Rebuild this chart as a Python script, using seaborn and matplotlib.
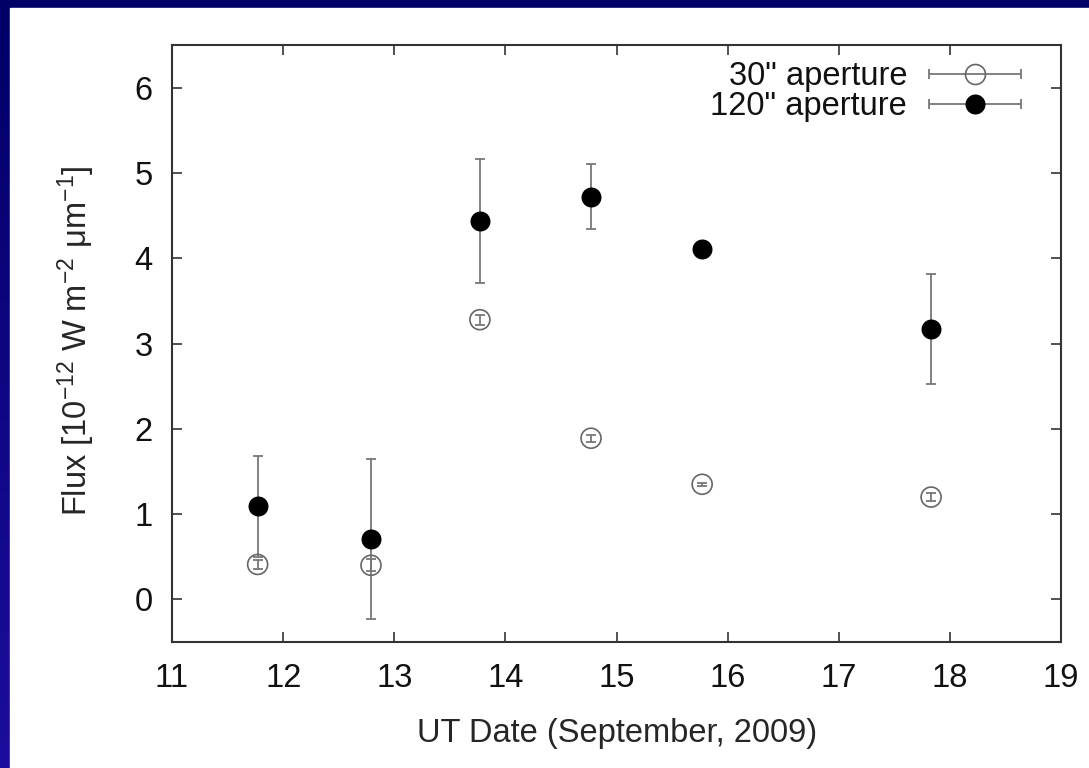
import numpy as np
import pandas as pd
import matplotlib
matplotlib.use("Agg")
import matplotlib.pyplot as plt
import seaborn as sns
from matplotlib.colors import LinearSegmentedColormap
from matplotlib.container import ErrorbarContainer
from matplotlib.legend_handler import HandlerErrorbar
from matplotlib.lines import Line2D
from matplotlib.patches import Rectangle

# values
dates = [11.77, 12.79, 13.77, 14.77, 15.77, 17.83]
flux_30 = [0.41, 0.40, 3.28, 1.89, 1.35, 1.20]
err_30 = [0.05, 0.07, 0.06, 0.04, 0.02, 0.05]
flux_120 = [1.09, 0.71, 4.44, 4.72, 4.11, 3.17]
err_120 = [0.59, 0.94, 0.73, 0.38, 0.0, 0.65]
labels = ['30" aperture', '120" aperture']
x_ticks = list(range(11, 20))
y_ticks = list(range(0, 7))

df = pd.DataFrame({"date": dates, "f30": flux_30, "e30": err_30,
                   "f120": flux_120, "e120": err_120})

sns.set_theme(style="ticks")
plt.rcParams['font.family'] = ['Liberation Sans', 'DejaVu Sans']
plt.rcParams['mathtext.default'] = 'regular'
plt.rcParams['text.color'] = '#111111'
FS = 23.5

fig = plt.figure(figsize=(10.89, 7.68), dpi=100)

# slide background: navy gradient with a white panel
bg = fig.add_axes([0, 0, 1, 1], zorder=-10)
cmap = LinearSegmentedColormap.from_list("slide", [(0.0, 0.0, 0.40), (0.11, 0.05, 0.62)])
bg.imshow(np.linspace(0, 1, 256)[:, None], aspect='auto', cmap=cmap, extent=[0, 1, 0, 1])
bg.add_patch(Rectangle((10 / 1089, 0), 1, 1 - 8 / 768, color='white', transform=bg.transAxes))
bg.set_xlim(0, 1)
bg.set_ylim(0, 1)
bg.axis('off')

ax = fig.add_axes([0.158, 0.164, 0.8164, 0.7773])
ax.set_facecolor('white')

ebar_kw = dict(fmt='none', ecolor='#777777', elinewidth=1.3, capsize=3.3, capthick=1.3, zorder=2)
eb30 = ax.errorbar(df["date"], df["f30"], yerr=df["e30"], **ebar_kw)
eb120 = ax.errorbar(df["date"], df["f120"], yerr=df["e120"], **ebar_kw)

sns.scatterplot(data=df, x="date", y="f30", marker="o", s=207, facecolor="none",
                edgecolor="#666666", linewidth=1.2, legend=False, ax=ax, zorder=3)
sns.scatterplot(data=df, x="date", y="f120", marker="o", s=207, color="black",
                edgecolor="black", linewidth=0, legend=False, ax=ax, zorder=4)

ax.set_xlim(11, 19)
ax.set_ylim(-0.5, 6.5)
ax.set_xticks(x_ticks)
ax.set_yticks(y_ticks)
ax.tick_params(direction='in', length=7, width=1.2, color='#333333',
               top=True, right=True, labelsize=FS, labelcolor='#111111')
ax.tick_params(axis='x', pad=15)
ax.tick_params(axis='y', pad=14)
for s in ax.spines.values():
    s.set_color('#333333')
    s.set_linewidth(1.5)

ax.set_xlabel("UT Date (September, 2009)", fontsize=FS)
ax.xaxis.set_label_coords(0.5, -0.127)
ax.set_ylabel("Flux [10$^{-12}$ W m$^{-2}$ μm$^{-1}$]", fontsize=FS)
ax.yaxis.set_label_coords(-0.0845, 0.505)

# legend with horizontal error-bar samples, text first
p30 = Line2D([], [], ls='none', marker='o', ms=14.4, mfc='none', mec='#666666', mew=1.2)
p120 = Line2D([], [], ls='none', marker='o', ms=14.4, mfc='black', mec='black', mew=0)
h30 = ErrorbarContainer((p30, eb30.lines[1], eb30.lines[2]), has_xerr=True, has_yerr=False)
h120 = ErrorbarContainer((p120, eb120.lines[1], eb120.lines[2]), has_xerr=True, has_yerr=False)
ax.legend([h30, h120], labels, loc='upper right', bbox_to_anchor=(0.955, 0.9725),
          markerfirst=False, frameon=False, fontsize=FS, borderpad=0, borderaxespad=0,
          handlelength=2.82, handletextpad=0.67, labelspacing=-0.04,
          handler_map={ErrorbarContainer: HandlerErrorbar(xerr_size=1.41)})

plt.savefig("out.png", dpi=100)
plt.close()
